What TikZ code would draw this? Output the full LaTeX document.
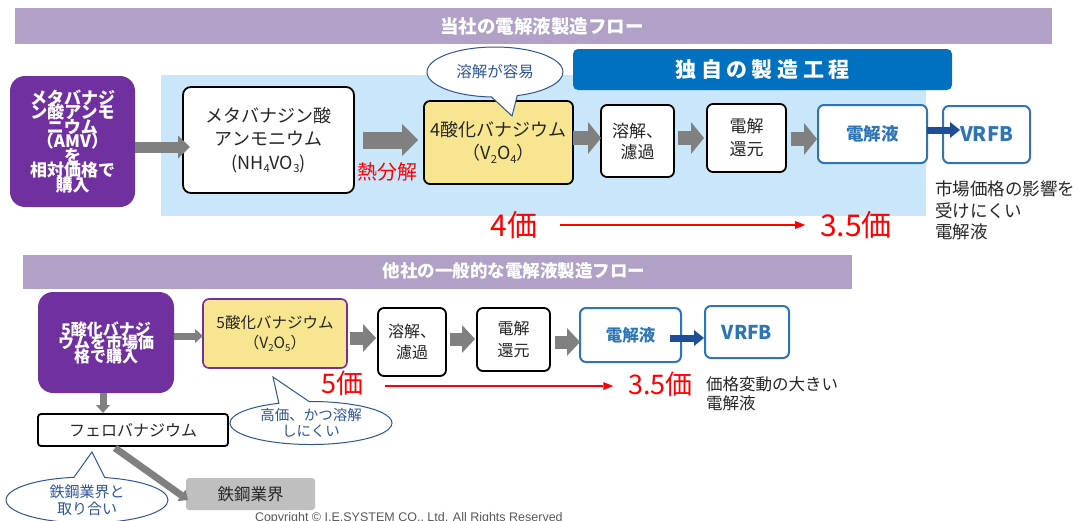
\documentclass[tikz,border=0pt]{standalone}
\usepackage{fontspec}
\setmainfont{Noto Sans CJK JP}
\newfontfamily\cpfont{Liberation Sans}
\usetikzlibrary{arrows.meta,shapes.callouts,shapes.geometric}
\definecolor{lav}{HTML}{B1A1C7}
\definecolor{lblue}{HTML}{C9E6FA}
\definecolor{vpurple}{HTML}{7030A0}
\definecolor{bbar}{HTML}{0070C0}
\definecolor{agray}{HTML}{808080}
\definecolor{vyellow}{HTML}{F8E58F}
\definecolor{bborder}{HTML}{2E75B6}
\definecolor{btext}{HTML}{2E75B6}
\definecolor{darr}{HTML}{1F4E99}
\definecolor{cborder}{HTML}{2F5597}
\definecolor{ctext}{HTML}{2F5597}
\definecolor{sgray}{HTML}{BFBFBF}
\definecolor{tdark}{HTML}{262626}
\definecolor{cpgray}{HTML}{595959}
\newcommand\lowidx[1]{\raisebox{-0.35ex}{\scalebox{0.62}{#1}}}
\newcommand\fsz[2]{\fontsize{#1}{#2}\selectfont\lineskiplimit=-40pt\relax}
\tikzset{
  purplebox/.style={fill=vpurple, rounded corners=15pt, text=white, align=center},
  wbox/.style={draw=black, line width=1.8pt, fill=white, rounded corners=6pt, align=center, text=tdark},
  ybox/.style={wbox, fill=vyellow},
  bbox/.style={draw=bborder, line width=2pt, fill=white, rounded corners=6pt, text=btext, align=center},
  callnote/.style={ellipse callout, draw=cborder, line width=1pt, fill=white, text=ctext, align=center, callout pointer arc=22},
  redtxt/.style={text=red, font=\fsz{30}{32}},
  arrA/.style={draw=agray, line width=11pt, -{Triangle[length=12pt,width=23pt,line width=0pt]}},
  arrB/.style={draw=agray, line width=17pt, -{Triangle[length=16pt,width=32pt,line width=0pt]}},
  arrC/.style={draw=agray, line width=14pt, -{Triangle[length=13pt,width=32pt,line width=0pt]}},
  arrD/.style={draw=agray, line width=13pt, -{Triangle[length=13pt,width=28pt,line width=0pt]}},
  arrE/.style={draw=agray, line width=7pt, -{Triangle[length=8pt,width=14pt,line width=0pt]}},
  arrBlue/.style={draw=darr, line width=7pt, -{Triangle[length=10pt,width=16pt,line width=0pt]}},
  arrRed/.style={draw=red, line width=1.8pt, -{Triangle[length=10pt,width=8pt,line width=0pt]}},
}
\begin{document}
\begin{tikzpicture}[x=1pt, y=-1pt, every node/.style={inner sep=0pt, outer sep=0pt}]
\useasboundingbox[fill=white] (0,0) rectangle (1078,520);
% ---------- upper flow ----------
\fill[lav] (15,8) rectangle (1052,44);
\node[font=\bfseries\fsz{18.5}{20}, text=white] (t1) at (542,26) {当社の電解液製造フロー};
\fill[lblue] (161,75) rectangle (926,216);
\node[fill=bbar, rounded corners=5pt, minimum width=379pt, minimum height=41pt, text=white, font=\bfseries\fsz{21}{24}] (bar) at (762.5,69.5) {独\hspace{4.5pt}自\hspace{4.5pt}の\hspace{4.5pt}製\hspace{4.5pt}造\hspace{4.5pt}工\hspace{4.5pt}程};

\node[purplebox, minimum width=125pt, minimum height=131pt, font=\bfseries\fsz{17}{14.5}] (p1) at (72.5,141.5) {メタバナジ\\ン酸アンモ\\ニウム\\（AMV）\\を\\相対価格で\\購入};
\node[wbox, rounded corners=8pt, minimum width=171pt, minimum height=106pt, font=\fsz{18}{23.5}] (nh) at (268.5,140) {メタバナジン酸\\アンモニウム\\(NH\lowidx{4}VO\lowidx{3})};
\node[ybox, minimum width=149pt, minimum height=83pt, font=\fsz{18}{23}] (v4) at (498.5,142.5) {4酸化バナジウム\\（V\lowidx{2}O\lowidx{4}）};
\node[wbox, minimum width=73pt, minimum height=72pt, font=\fsz{17}{21}] (s1) at (637.5,141) {溶解、\\濾過};
\node[wbox, minimum width=79pt, minimum height=68pt, font=\fsz{17}{23}] (d1) at (746.5,138) {電解\\還元};
\node[bbox, minimum width=109pt, minimum height=58pt, font=\bfseries\fsz{17.5}{20}] (e1) at (872.5,134) {電解液};
\node[bbox, minimum width=87pt, minimum height=57pt, font=\bfseries\fsz{20}{22}] (r1) at (986.5,134.5) {VRFB};

\node[text=red, font=\fsz{20}{22}] (hd) at (387.5,172) {熱分解};
\node[redtxt] (n4) at (514,225) {4価};
\node[redtxt] (n35) at (856,225) {3.5価};
\node[anchor=west, align=left, text=tdark, font=\fsz{17.5}{21.5}] (m1) at (935,210.5) {市場価格の影響を\\受けにくい\\電解液};

\draw[arrA] ([yshift=-5.5pt]p1.east) -- ([xshift=7pt,yshift=-7pt]nh.west);
\draw[arrB] ([xshift=9pt]nh.east) -- ([xshift=-6pt,yshift=2.5pt]v4.west);
\draw[arrC] ([yshift=4.5pt]v4.east) -- ([yshift=3pt]s1.west);
\draw[arrC] ([xshift=4pt,yshift=3pt]s1.east) -- ([xshift=-3pt]d1.west);
\draw[arrC] ([xshift=5pt,yshift=-1pt]d1.east) -- ([xshift=-1pt,yshift=-5pt]e1.west);
\draw[arrBlue] ([yshift=4pt]e1.east) -- ([xshift=17pt,yshift=4.5pt]r1.west);
\draw[arrRed] ([xshift=23pt]n4.east) -- ([xshift=-15pt]n35.west);

% ---------- lower flow ----------
\fill[lav] (23,255) rectangle (852,289);
\node[font=\bfseries\fsz{17.5}{20}, text=white] (t2) at (514,271) {他社の一般的な電解液製造フロー};

\node[purplebox, minimum width=136pt, minimum height=101pt, font=\bfseries\fsz{16}{13.5}] (p2) at (106,342.5) {5酸化バナジ\\ウムを市場価\\格で購入};
\node[ybox, draw=vpurple, line width=1.6pt, minimum width=144pt, minimum height=69pt, font=\fsz{15.5}{20}] (v5) at (275,333.5) {5酸化バナジウム\\（V\lowidx{2}O\lowidx{5}）};
\node[wbox, minimum width=68pt, minimum height=68pt, font=\fsz{16}{21}] (s2) at (412,342) {溶解、\\濾過};
\node[wbox, minimum width=73pt, minimum height=63pt, font=\fsz{16}{22}] (d2) at (513.5,339.5) {電解\\還元};
\node[bbox, minimum width=101pt, minimum height=54pt, font=\bfseries\fsz{16.5}{20}] (e2) at (630.5,335) {電解液};
\node[bbox, minimum width=84pt, minimum height=52pt, font=\bfseries\fsz{19}{22}] (r2) at (747,332) {VRFB};
\node[wbox, rounded corners=3pt, minimum width=190pt, minimum height=32pt, font=\fsz{16}{20}] (fe) at (133,430) {フェロバナジウム};
\node[fill=sgray, rounded corners=3pt, minimum width=129pt, minimum height=32pt, text=tdark, font=\fsz{16.5}{20}] (st) at (250.5,494) {鉄鋼業界};

\node[redtxt, font=\fsz{27}{29}] (n5) at (342.5,383) {5価};
\node[redtxt, font=\fsz{27}{29}] (n35b) at (660.5,384) {3.5価};
\node[anchor=west, align=left, text=tdark, font=\fsz{16.5}{19}] (m2) at (706,393.5) {価格変動の大きい\\電解液};

\draw[arrE] ([yshift=6.5pt]p2.east) -- ([yshift=-2.5pt]v5.west);
\draw[arrD] ([xshift=3pt,yshift=-4.5pt]v5.east) -- ([xshift=-2pt,yshift=4pt]s2.west);
\draw[arrD] ([xshift=4pt,yshift=3pt]s2.east) -- ([xshift=-2pt,yshift=0.5pt]d2.west);
\draw[arrD] ([xshift=5pt,yshift=-2.5pt]d2.east) -- ([yshift=-7pt]e2.west);
\draw[arrBlue] ([xshift=-11pt,yshift=-3pt]e2.east) -- ([xshift=-1pt,yshift=-6pt]r2.west);
\draw[arrE] ([xshift=-3pt]p2.south) -- ([xshift=-30pt,yshift=1pt]fe.north);
\draw[arrE] ([xshift=-18pt,yshift=-2pt]fe.south) -- ([xshift=2pt,yshift=-6pt]st.west);
\draw[arrRed] ([xshift=22pt,yshift=-3pt]n5.east) -- ([xshift=-15pt,yshift=-2pt]n35b.west);

\node[anchor=base west, text=cpgray, font=\cpfont\fsz{12.5}{15}] (cp) at (255,521) {Copyright © I.E.SYSTEM CO., Ltd. All Rights Reserved};

% ---------- callouts ----------
\node[callnote, minimum width=136pt, minimum height=50pt, font=\fsz{15.5}{18}, callout absolute pointer={(512,116)}] (c1) at (495,72) {溶解が容易};
\node[callnote, minimum width=162pt, minimum height=43pt, font=\fsz{14.5}{16}, callout absolute pointer={(273,377)}] (c2) at (311,423) {高価、かつ溶解\\しにくい};
\node[callnote, minimum width=162pt, minimum height=46pt, font=\fsz{15}{17}, callout absolute pointer={(92,452)}] (c3) at (87,500) {鉄鋼業界と\\取り合い};
\end{tikzpicture}
\end{document}
